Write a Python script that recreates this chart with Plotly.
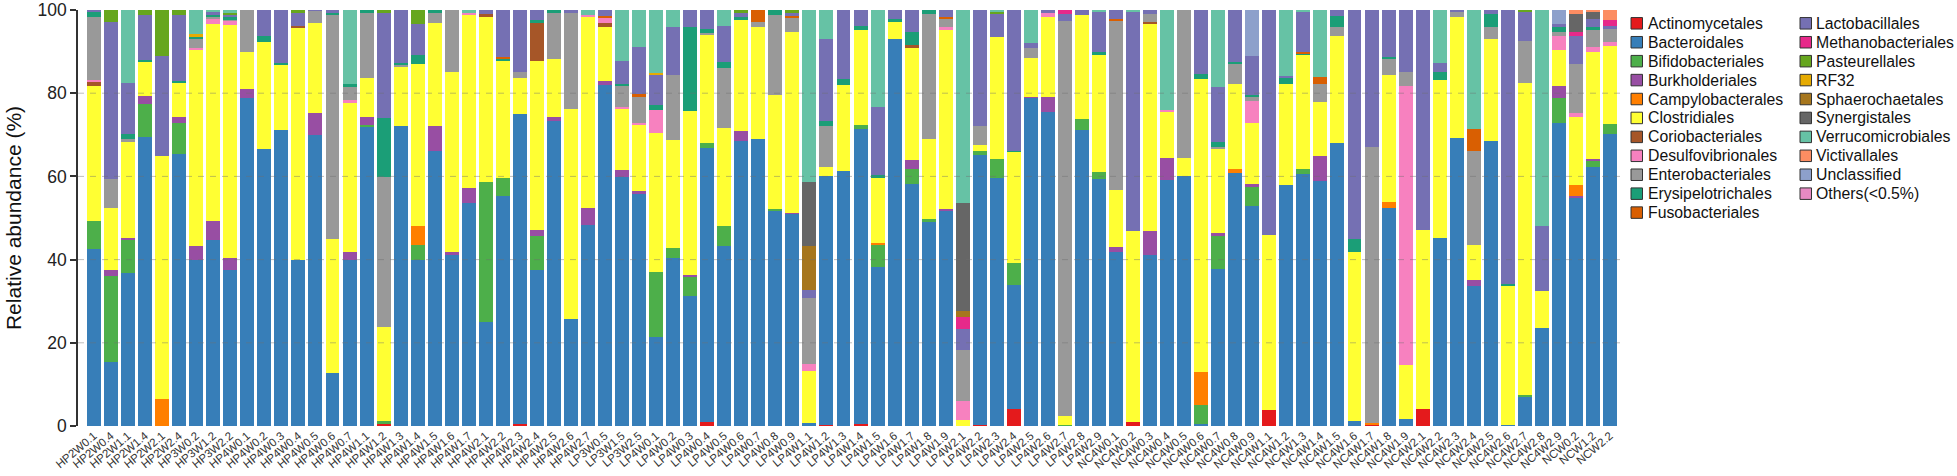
import plotly.graph_objects as go

samples = [
    "HP2W0.1", "HP2W0.4", "HP2W1.1", "HP2W1.4", "HP2W2.1", "HP2W2.4", "HP3W0.2", "HP3W1.2", "HP3W2.2", "HP4W0.1",
    "HP4W0.2", "HP4W0.3", "HP4W0.4", "HP4W0.5", "HP4W0.6", "HP4W0.7", "HP4W1.1", "HP4W1.2", "HP4W1.3", "HP4W1.4",
    "HP4W1.5", "HP4W1.6", "HP4W1.7", "HP4W2.1", "HP4W2.2", "HP4W2.3", "HP4W2.4", "HP4W2.5", "HP4W2.6", "HP4W2.7",
    "LP3W0.5", "LP3W1.5", "LP3W2.5", "LP4W0.1", "LP4W0.2", "LP4W0.3", "LP4W0.4", "LP4W0.5", "LP4W0.6", "LP4W0.7",
    "LP4W0.8", "LP4W0.9", "LP4W1.1", "LP4W1.2", "LP4W1.3", "LP4W1.4", "LP4W1.5", "LP4W1.6", "LP4W1.7", "LP4W1.8",
    "LP4W1.9", "LP4W2.1", "LP4W2.2", "LP4W2.3", "LP4W2.4", "LP4W2.5", "LP4W2.6", "LP4W2.7", "LP4W2.8", "LP4W2.9",
    "NC4W0.1", "NC4W0.2", "NC4W0.3", "NC4W0.4", "NC4W0.5", "NC4W0.6", "NC4W0.7", "NC4W0.8", "NC4W0.9", "NC4W1.1",
    "NC4W1.2", "NC4W1.3", "NC4W1.4", "NC4W1.5", "NC4W1.6", "NC4W1.7", "NC4W1.8", "NC4W1.9", "NC4W2.1", "NC4W2.2",
    "NC4W2.3", "NC4W2.4", "NC4W2.5", "NC4W2.6", "NC4W2.7", "NC4W2.8", "NC4W2.9", "NCW0.2", "NCW1.2", "NCW2.2",
]

# ---- dense series (one value per sample, in sample order) ----
bacteroidales = [
    42.5, 15.5, 36.8, 69.5, 0, 65.3, 39.8, 44.8, 37.6, 78.9,
    66.7, 71.1, 39.8, 69.9, 12.7, 39.8, 72.1, 0, 72.1, 40.0,
    66.1, 41.2, 53.5, 25.0, 55.3, 74.6, 37.4, 73.2, 25.7, 48.2,
    82.0, 59.8, 55.7, 21.3, 40.4, 31.2, 65.9, 43.3, 68.4, 68.9,
    51.7, 51.0, 0.7, 59.8, 61.3, 71.1, 38.2, 93.1, 58.1, 49.0,
    51.8, 0, 64.8, 59.7, 29.7, 79.0, 75.6, 0, 71.2, 59.3,
    41.8, 0, 41.2, 59.1, 60.2, 0.5, 37.8, 60.7, 53.0, 0,
    57.9, 60.5, 58.9, 68.0, 1.1, 0, 52.4, 1.8, 0, 45.2,
    69.3, 33.6, 68.5, 0.2, 6.9, 23.5, 72.9, 55.0, 62.2, 70.3,
]
bifidobacteriales = [
    6.7, 20.5, 7.8, 7.8, 0, 7.6, 0, 0, 0, 0,
    0, 0, 0, 0, 0, 0, 0.3, 0.9, 0, 3.6,
    0, 0, 0, 33.6, 4.4, 0, 8.2, 0, 0, 0,
    0, 0, 0, 15.7, 2.4, 4.6, 1.1, 4.8, 0, 0,
    0.5, 0, 0, 0, 0, 0.8, 5.4, 0, 3.6, 0.8,
    0, 0, 1.0, 4.4, 5.4, 0, 0, 0.3, 2.7, 1.7,
    0, 0, 0, 0, 0, 4.6, 7.8, 0, 4.4, 0,
    0, 1.4, 0, 0, 0, 0, 0, 0, 0, 0,
    0, 0, 0, 0, 0.6, 0, 5.9, 0, 1.7, 2.2,
]
burkholderiales = [
    0, 1.6, 0.6, 2.1, 0, 1.5, 3.5, 4.4, 2.8, 2.0,
    0, 0, 0, 5.3, 0, 2.0, 1.9, 0, 0, 0,
    6.0, 0.6, 3.6, 0, 0, 0, 1.6, 1.1, 0, 4.2,
    1.0, 1.7, 0.9, 0, 0, 0.6, 0, 0, 2.4, 0,
    0, 0.3, 0, 0, 0, 0, 0, 0, 2.2, 0,
    0.3, 0, 0, 0, 0, 0.2, 3.6, 0, 0, 0,
    1.2, 0, 5.6, 5.4, 0, 0, 0.9, 0, 0.8, 0,
    0, 0, 6.0, 0, 0, 0, 0, 0, 0, 0,
    0, 1.4, 0, 0, 0, 0, 3.0, 0.3, 0.4, 0,
]
clostridiales = [
    32.6, 14.8, 23.1, 8.2, 58.4, 8.2, 47.1, 47.4, 55.9, 8.9,
    25.5, 15.9, 55.9, 21.6, 32.3, 35.8, 9.3, 22.5, 14.1, 38.9,
    24.7, 43.4, 41.6, 39.8, 28.1, 8.5, 40.6, 13.9, 50.4, 45.8,
    13.0, 14.8, 15.7, 33.5, 25.9, 39.3, 25.9, 23.6, 26.8, 27.0,
    27.4, 43.3, 12.6, 2.2, 20.7, 22.9, 15.8, 4.0, 26.9, 19.1,
    43.1, 1.5, 1.5, 29.3, 26.7, 9.2, 19.0, 2.2, 24.8, 28.2,
    13.7, 45.8, 49.9, 11.2, 4.3, 70.3, 20.0, 20.3, 14.6, 42.1,
    24.3, 27.3, 12.9, 25.8, 40.7, 0, 30.6, 12.9, 43.1, 38.0,
    29.1, 8.6, 24.5, 33.6, 74.9, 8.9, 8.6, 16.4, 25.5, 18.9,
]
desulfovibrionales = [
    0.6, 0, 0, 0, 0, 0, 0.4, 1.2, 1.1, 0,
    0, 0, 0, 0, 0, 0.8, 0, 0, 0, 0,
    0, 0, 0.6, 0, 0, 0, 0, 0, 0, 0.6,
    1.2, 0.4, 0.6, 5.4, 0, 0, 0, 0, 0, 0,
    0, 0, 1.6, 0, 0, 0, 0, 0, 0, 0,
    0.6, 4.6, 0, 0, 0, 0, 1.0, 0, 0, 0,
    0, 0, 0, 0.3, 0, 0, 0, 0, 5.4, 0,
    0, 0, 0, 0, 0, 0, 0, 67.1, 0, 0,
    0, 0, 0, 0, 0, 0, 3.4, 0.9, 1.2, 1.0,
]
enterobacteriales = [
    15.0, 6.9, 0.8, 0, 0, 0, 2.4, 0.5, 0.4, 10.2,
    0, 0, 0, 3.0, 53.7, 3.0, 15.8, 36.1, 0.5, 0,
    2.6, 14.8, 0, 0, 0, 1.4, 0, 11.0, 23.1, 0,
    0, 5.1, 6.1, 0, 15.7, 0, 0.5, 14.4, 0, 1.2,
    19.1, 3.6, 15.9, 9.7, 0, 0, 0, 0, 0, 30.1,
    2.2, 12.2, 4.5, 0, 0, 2.4, 0, 94.9, 0, 0,
    40.7, 0, 2.0, 0, 35.5, 0, 0.6, 4.8, 1.0, 0,
    0, 0, 4.4, 2.0, 0, 66.4, 3.8, 3.2, 0, 0,
    1.1, 22.5, 2.8, 0, 10.2, 0, 0.9, 11.8, 4.4, 3.0,
]
erysipelotrichales = [
    1.3, 0, 1.2, 0.5, 0, 0.3, 0.4, 0.6, 0.4, 0,
    1.6, 0.3, 0, 0, 0.6, 0.8, 0.6, 14.1, 0.6, 2.2,
    0.6, 0, 0, 0, 0.5, 0, 0.8, 0.8, 0, 0,
    0, 0.3, 0, 1.2, 0, 20.2, 1.0, 1.3, 0.8, 0,
    1.3, 0, 0, 1.2, 1.5, 1.0, 0.6, 0.7, 3.1, 1.0,
    0, 0, 0, 0, 0.3, 0, 0, 0, 0, 0.8,
    0, 0, 0, 0, 0, 1.2, 1.2, 0.5, 0.4, 0,
    1.4, 0.3, 0, 2.8, 3.2, 0, 0.6, 0, 0, 2.0,
    0, 0, 3.2, 0.3, 0, 0, 1.1, 0, 0.4, 0,
]
lactobacillales = [
    0.5, 37.7, 12.2, 10.6, 24.1, 15.8, 0, 0.6, 0.8, 0,
    6.2, 12.7, 3.2, 0.2, 0.7, 0, 0, 25.4, 12.7, 7.4,
    0, 0, 0, 1.0, 11.2, 15.0, 2.4, 0, 0.8, 0,
    1.4, 5.7, 11.2, 7.3, 11.5, 4.1, 4.6, 8.8, 1.0, 0,
    0, 0.8, 1.8, 19.9, 16.5, 3.8, 16.4, 2.2, 5.3, 0,
    1.6, 5.1, 27.9, 5.7, 33.8, 1.2, 0.8, 1.6, 1.3, 9.5,
    2.2, 52.7, 1.0, 0, 0, 15.4, 13.1, 12.5, 9.4, 54.0,
    0.5, 9.6, 0, 1.4, 55.0, 32.9, 11.2, 15.0, 52.8, 2.0,
    0.5, 0, 1.0, 65.9, 6.9, 15.6, 0.8, 6.8, 2.0, 0.8,
]
verrucomicrobiales = [
    0, 0, 17.5, 0, 0, 0, 5.8, 0.5, 0.6, 0,
    0, 0, 0, 0, 0, 17.8, 0, 0, 0, 0,
    0, 0, 0.7, 0, 0, 0, 0, 0, 0, 1.2,
    0, 12.2, 9.0, 15.1, 4.1, 0, 0, 3.8, 0, 0,
    0, 0, 41.3, 6.9, 0, 0, 23.3, 0, 0, 0,
    0, 46.5, 0, 0.5, 0, 8.0, 0, 0, 0, 0.5,
    0, 0.5, 0, 24.0, 0, 0, 18.6, 0, 0, 0,
    15.9, 0.5, 16.2, 0, 0, 0, 0, 0, 0, 12.8,
    0, 28.5, 0, 0, 0, 52.0, 0, 0, 0, 0,
]

# ---- sparse series (only the samples where the order is visible) ----
actinomycetales = {"HP4W1.2": 0.4, "HP4W2.3": 0.5, "LP4W0.4": 1.0, "LP4W1.2": 0.3, "LP4W1.4": 0.4,
                   "LP4W2.2": 0.3, "LP4W2.4": 4.1, "NC4W0.2": 1.0, "NC4W1.1": 3.9, "NC4W1.7": 0.4,
                   "NC4W2.1": 4.1}
campylobacterales = {"HP2W2.1": 6.5, "HP4W1.4": 4.5, "LP4W1.5": 0.3, "NC4W0.6": 8.0, "NC4W0.8": 1.2,
                     "NC4W1.7": 0.3, "NC4W1.8": 1.4, "NCW0.2": 2.6}
coriobacteriales = {"HP2W0.1": 0.8, "HP4W0.4": 0.5, "HP4W2.1": 0.6, "HP4W2.4": 9.0, "LP3W0.5": 0.8,
                    "LP4W1.7": 0.8, "NC4W0.3": 0.3}
fusobacteriales = {"HP4W2.2": 0.5, "LP3W0.5": 0.6, "LP3W2.5": 0.8, "LP4W0.7": 2.9, "LP4W0.9": 0.3,
                   "LP4W1.9": 0.4, "NC4W0.1": 0.4, "NC4W1.3": 0.4, "NC4W1.4": 1.6, "NC4W2.4": 5.4}
methanobacteriales = {"LP4W2.1": 2.7, "LP4W2.7": 1.0, "NCW0.2": 0.8, "NCW2.2": 1.4}
pasteurellales = {"HP2W0.4": 3.0, "HP2W1.4": 1.3, "HP2W2.1": 11.0, "HP2W2.4": 1.3, "HP3W2.2": 0.4,
                  "HP4W0.4": 0.6, "HP4W1.2": 0.6, "HP4W1.4": 3.4, "LP4W0.6": 0.6, "LP4W0.9": 0.7,
                  "LP4W2.3": 0.4, "NC4W2.7": 0.5}
rf32 = {"HP3W0.2": 0.6, "LP4W0.1": 0.5}
sphaerochaetales = {"LP4W1.1": 10.7, "LP4W2.1": 1.5}
synergistales = {"LP4W1.1": 15.4, "LP4W2.1": 25.9, "NCW0.2": 4.4, "NCW1.2": 1.7}
victivallales = {"NCW0.2": 1.0, "NCW1.2": 0.5, "NCW2.2": 2.4}
unclassified = {"NC4W0.9": 11.0, "NC4W2.9": 3.4}
others = {}

order_names = [
    "Actinomycetales", "Bacteroidales", "Bifidobacteriales", "Burkholderiales", "Campylobacterales",
    "Clostridiales", "Coriobacteriales", "Desulfovibrionales", "Enterobacteriales", "Erysipelotrichales",
    "Fusobacteriales", "Lactobacillales", "Methanobacteriales", "Pasteurellales", "RF32",
    "Sphaerochaetales", "Synergistales", "Verrucomicrobiales", "Victivallales", "Unclassified",
    "Others(<0.5%)",
]
order_colors = [
    "#E41A1C", "#377EB8", "#4DAF4A", "#984EA3", "#FF7F00",
    "#FFFF33", "#A65628", "#F781BF", "#999999", "#1B9E77",
    "#D95F02", "#7570B3", "#E7298A", "#66A61E", "#E6AB02",
    "#A6761D", "#666666", "#66C2A5", "#FC8D62", "#8DA0CB",
    "#E78AC3",
]


def dense(sparse):
    return [sparse.get(s, 0) for s in samples]


series = [
    dense(actinomycetales), bacteroidales, bifidobacteriales, burkholderiales, dense(campylobacterales),
    clostridiales, dense(coriobacteriales), desulfovibrionales, enterobacteriales, erysipelotrichales,
    dense(fusobacteriales), lactobacillales, dense(methanobacteriales), dense(pasteurellales), dense(rf32),
    dense(sphaerochaetales), dense(synergistales), verrucomicrobiales, dense(victivallales), dense(unclassified),
    dense(others),
]

FONT = "Liberation Sans, Arial, Helvetica, sans-serif"
W, H = 1957, 476
ML, MR, MT, MB = 78, 331, 10, 50
PW, PH = W - ML - MR, H - MT - MB

fig = go.Figure()
for name, col, vals in zip(order_names, order_colors, series):
    fig.add_trace(go.Bar(
        x=samples, y=vals, name=name,
        marker=dict(color=col, line=dict(width=0)),
        showlegend=False,
        hovertemplate="%{x}<br>" + name + ": %{y}%<extra></extra>",
    ))

# dashed reference lines drawn over the bars
shapes = []
for v in [20, 40, 60, 80]:
    shapes.append(dict(type="line", xref="paper", yref="y", x0=0, x1=1, y0=v, y1=v,
                       line=dict(color="rgba(110,110,110,0.45)", width=1, dash="6px,6px"),
                       layer="above"))


def px(xp):
    return (xp - ML) / PW


def py(yp):
    return (H - MB - yp) / PH


# legend (two columns) built from the order list
annotations = []
row_h = 18.93
for i, (name, col) in enumerate(zip(order_names, order_colors)):
    c, r = divmod(i, 11)
    sq_x = 1631 if c == 0 else 1800
    tx = 1648 if c == 0 else 1816
    cy = 23.3 + r * row_h
    size = 11.5
    shapes.append(dict(type="rect", xref="paper", yref="paper",
                       x0=px(sq_x), x1=px(sq_x + size), y0=py(cy - size / 2), y1=py(cy + size / 2),
                       fillcolor=col, line=dict(color="#333333", width=1)))
    annotations.append(dict(xref="paper", yref="paper", x=px(tx), y=py(cy),
                            text=name, showarrow=False, xanchor="left", yanchor="middle",
                            xshift=-2,
                            font=dict(family=FONT, size=15.8, color="#111111")))

fig.update_layout(
    barmode="stack",
    bargap=0.18,
    width=W, height=H,
    margin=dict(l=ML, r=MR, t=MT, b=MB, autoexpand=False),
    paper_bgcolor="white", plot_bgcolor="white",
    font=dict(family=FONT, color="#222222"),
    shapes=shapes,
    annotations=annotations,
    showlegend=False,
    xaxis=dict(
        type="category", range=[-0.94, len(samples) - 1 + 0.94],
        tickangle=-40, tickfont=dict(size=11.5, color="#333333", family=FONT),
        showline=False, ticks="", showgrid=False, zeroline=False, automargin=False,
    ),
    yaxis=dict(
        range=[0, 100], tickvals=[0, 20, 40, 60, 80, 100],
        ticks="outside", ticklen=6, tickwidth=1.5, tickcolor="#333333",
        showline=True, linecolor="#333333", linewidth=1.5,
        showgrid=False, zeroline=False, automargin=False,
        ticklabeloverflow="allow",
        tickfont=dict(size=17.5, color="#222222", family=FONT),
        title=dict(text="Relative abundance (%)", font=dict(size=21, color="#111111", family=FONT), standoff=10),
    ),
)

fig.write_html("out.html", include_plotlyjs=True, config={"displayModeBar": False},
               post_script="document.body.style.margin='0';document.body.style.overflow='hidden';")
